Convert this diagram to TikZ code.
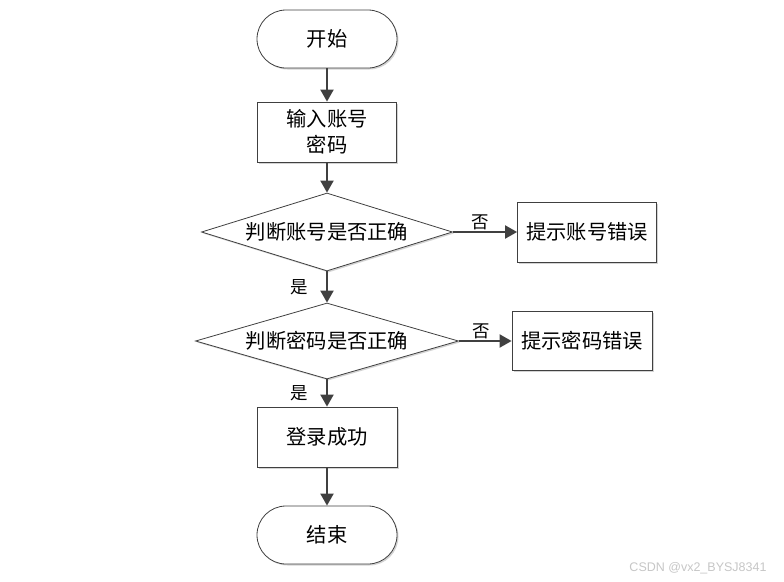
\documentclass[tikz,border=0pt]{standalone}
\usepackage{fontspec}
\setmainfont{Noto Sans CJK SC}
\newfontfamily\wmfont{Liberation Sans}
\usepackage{tikz}
\usetikzlibrary{shapes,arrows.meta,positioning,shadows}
\definecolor{linegray}{HTML}{404040}

\begin{document}
\begin{tikzpicture}[x=1pt,y=-1pt,
    base/.style={draw=linegray, line width=0.8pt, fill=white, inner sep=0pt,
        font=\fontsize{20.3}{26}\selectfont,
        drop shadow={shadow xshift=1.5pt, shadow yshift=-1.5pt, opacity=0.35, fill=gray}},
    term/.style={base, rectangle, rounded corners=29pt, minimum width=140pt, minimum height=58pt},
    proc/.style={base, rectangle, align=center, minimum width=139pt, minimum height=60pt},
    decision/.style={base, diamond, aspect=3.2},
    flow/.style={draw=linegray, line width=2pt, -{Triangle[length=12pt,width=13pt]}},
    lbl/.style={font=\fontsize{17.5}{19}\selectfont, inner sep=1pt}]
    \useasboundingbox (0,0) rectangle (784,581);

    % nodes
    \node[term] (start) at (327,39) {开始};
    \node[proc] (input) at (327,132) {输入账号\\密码};
    \node[decision, minimum width=251pt, minimum height=78pt] (chkacc) at (327,232) {判断账号是否正确};
    \node[proc] (accerr) at (587,232) {提示账号错误};
    \node[decision, minimum width=263pt, minimum height=76pt] (chkpwd) at (327,341) {判断密码是否正确};
    \node[proc, minimum width=140pt, minimum height=59pt] (pwderr) at (582,341) {提示密码错误};
    \node[proc, minimum width=140pt] (ok) at (327,437) {登录成功};
    \node[term] (end) at (327,535) {结束};

    % connectors
    \draw[flow] (start) -- (input);
    \draw[flow] (input) -- (chkacc);
    \draw[flow] (chkacc) -- node[lbl, pos=0.42, above] {否} (accerr);
    \draw[flow] (chkacc) -- node[lbl, midway, left=17pt] {是} (chkpwd);
    \draw[flow] (chkpwd) -- node[lbl, pos=0.42, above] {否} (pwderr);
    \draw[flow] (chkpwd) -- node[lbl, midway, left=17pt] {是} (ok);
    \draw[flow] (ok) -- (end);

    \node[text=gray!45, font=\wmfont\fontsize{12.5}{14}\selectfont] (wm) at (698,568) {CSDN @vx2\_BYSJ8341};
\end{tikzpicture}
\end{document}
